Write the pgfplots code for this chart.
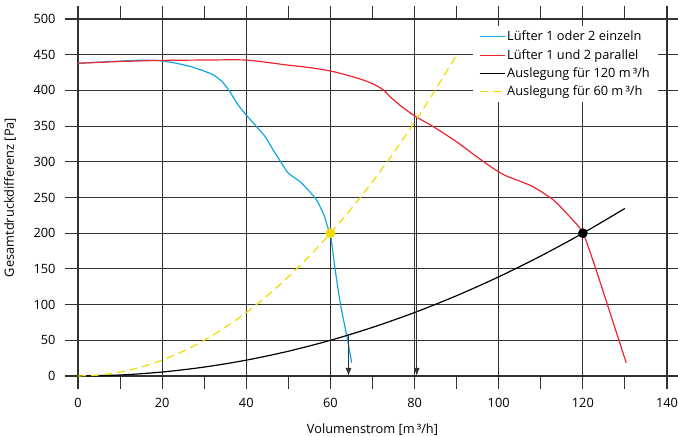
\documentclass[border=0pt]{standalone}
\usepackage{fontspec}
\setmainfont{Open Sans}
\usepackage{pgfplots}
\pgfplotsset{compat=1.18}
\usetikzlibrary{arrows.meta}
\definecolor{fblue}{RGB}{20,165,228}
\definecolor{fred}{RGB}{238,36,46}
\definecolor{fyellow}{RGB}{240,220,0}
\definecolor{gridc}{RGB}{50,50,50}
\begin{document}
\begin{tikzpicture}[font=\fontsize{12.8bp}{15bp}\selectfont]
\begin{axis}[
  scale only axis, width=589bp, height=357bp,
  xmin=0, xmax=140, ymin=0, ymax=500,
  xtick={0,20,...,140}, ytick={0,50,...,500},
  minor x tick num=1,
  tick align=outside,
  major tick length=13bp, minor tick length=13bp,
  every tick/.style={gridc, line width=1.1bp},
  grid=major,
  major grid style={gridc, line width=1.1bp},
  axis line style={gridc, line width=1.1bp},
  /pgf/number format/assume math mode=true,
  xticklabel style={yshift=-6bp},
  yticklabel style={xshift=-6bp},
  xlabel={Volumenstrom [m\,³/h]},
  ylabel={Gesamtdruckdifferenz [Pa]},
  xlabel style={at={([yshift=-54bp]axis description cs:0.5,0)}, anchor=center},
  ylabel style={at={([xshift=-68bp]axis description cs:0,0.5)}, anchor=center},
  legend style={at={(1,1)}, anchor=north east, xshift=-9bp, yshift=-7bp, fill=white, draw=none,
    inner xsep=6bp, inner ysep=3bp, row sep=3bp, cells={anchor=west}},
  legend image code/.code={\draw[#1] (0bp,0bp) -- (25bp,0bp);},
  clip=false,
]
\coordinate (bl) at (rel axis cs:0,0);
\coordinate (tr) at (rel axis cs:1,1);
\addplot[fblue, line width=1.2bp, smooth, tension=0.4] coordinates {
(0,438) (5,439.5) (10,441) (15,442.3) (19,441.8) (23,438.5) (27,433) (30,427) (32.2,421.6) (34.3,412) (36.1,398) (38,380) (40,365.5) (42.5,349) (44.5,335) (46.4,316.5) (48.4,298) (50,284) (52.8,272) (55.1,258) (56.7,246.5) (58.3,227.8) (59.5,206) (60,200) (61.1,150) (62.4,100) (64.1,50) (65.05,18.6)
};
\addlegendentry{Lüfter 1 oder 2 einzeln}
\addplot[fred, line width=1.2bp, smooth, tension=0.4] coordinates {
(0,438) (10,440.5) (20,442) (30,442.5) (40,442.5) (49.6,435.6) (55,432) (59.9,427.3) (63.5,422) (67.8,414.6) (70.5,408) (72.6,400.6) (74.2,391) (77,377) (80.1,364) (84.5,349) (90,328) (94.8,307) (98.7,290.8) (101.5,281) (104.3,274.5) (108.2,265) (113,246.5) (116.9,223) (120,200.7) (122.9,153) (126,97) (130.3,18.6)
};
\addlegendentry{Lüfter 1 und 2 parallel}
\addplot[black, line width=1.2bp, smooth] coordinates {
(0,0) (10,1.39) (20,5.56) (30,12.5) (40,22.2) (50,34.7) (60,50) (70,68.1) (80,88.9) (90,112.5) (100,138.9) (110,168.1) (120,200) (130,234.7)
};
\addlegendentry{Auslegung für 120 m\,³/h}
\addplot[fyellow, line width=1.2bp, dash pattern=on 8bp off 5bp, smooth] coordinates {
(0,0) (5,1.39) (10,5.56) (15,12.5) (20,22.2) (25,34.7) (30,50) (35,68.1) (40,88.9) (45,112.5) (50,138.9) (55,168.1) (60,200) (65,234.7) (70,272.2) (75,312.5) (80,355.6) (85,401.4) (90,450)
};
\addlegendentry{Auslegung für 60 m\,³/h}
\addplot[gridc, line width=1bp, -{Latex[length=8bp,width=6bp]}, forget plot] coordinates {(64.3,57) (64.3,0)};
\addplot[gridc, line width=1bp, -{Latex[length=8bp,width=6bp]}, forget plot] coordinates {(80.5,362) (80.5,0)};
\addplot[only marks, mark=*, mark size=4.6bp, fyellow, forget plot] coordinates {(60,200)};
\addplot[only marks, mark=*, mark size=4.6bp, black, forget plot] coordinates {(120,200)};
\end{axis}
\pgfresetboundingbox
\useasboundingbox ([shift={(-78bp,-61bp)}]bl) rectangle ([shift={(11bp,19bp)}]tr);
\end{tikzpicture}
\end{document}
